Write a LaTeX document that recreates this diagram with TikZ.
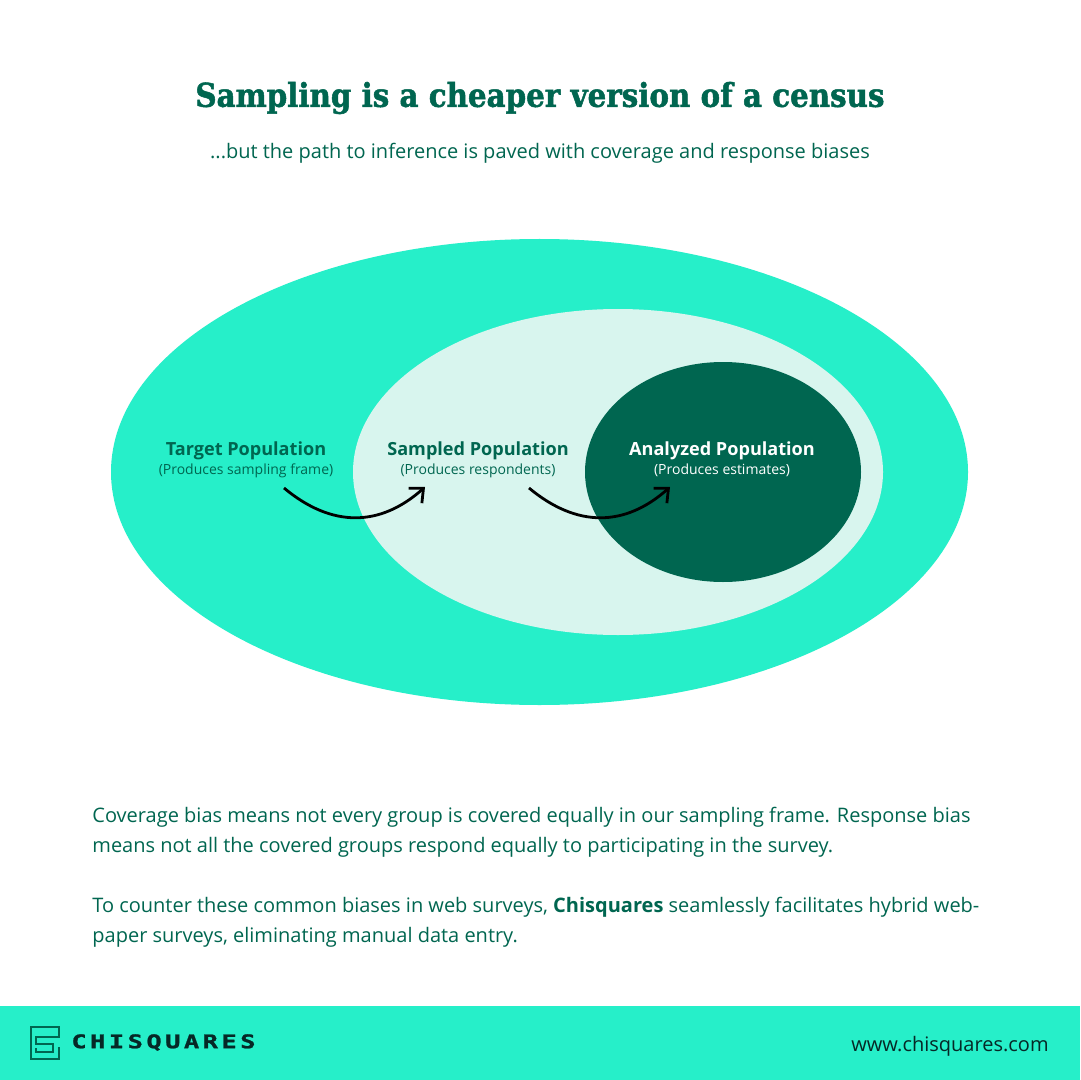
\documentclass[tikz,border=0pt]{standalone}
\usepackage{fontspec}
\setmainfont{Open Sans}
\newfontfamily\titlefont[FakeStretch=0.895,BoldFeatures={FakeBold=1.5}]{DejaVu Serif}
\newfontfamily\logofont[LetterSpace=18.5,FakeStretch=1.35,BoldFeatures={FakeBold=1.2}]{DejaVu Sans Mono}
\usetikzlibrary{arrows.meta,positioning,shapes.geometric}
\definecolor{chigreen}{RGB}{0,102,80}
\definecolor{chimint}{RGB}{38,239,201}
\definecolor{chipale}{RGB}{216,245,238}
\definecolor{chiink}{RGB}{6,40,38}
\tikzset{
  popshape/.style={ellipse,inner sep=0pt,draw=none},
  poptitle/.style={font=\fontsize{9.05}{11}\selectfont\bfseries,text=chigreen},
  popnote/.style={font=\fontsize{7}{8}\selectfont,text=chigreen},
  bodytext/.style={anchor=north west,align=left,inner sep=0pt,font=\fontsize{10}{15}\selectfont,text=chigreen},
  flowarrow/.style={-{Straight Barb[length=5.5pt,width=10pt]},line width=1.4pt,black},
  logoline/.style={chigreen,line width=1.4pt}
}
\begin{document}
\begin{tikzpicture}[x=0.5pt,y=-0.5pt]
  \useasboundingbox (0,0) rectangle (1080,1080);
  \fill[white] (0,0) rectangle (1080,1080);
  \fill[chimint] (0,1006) rectangle (1080,1080);
  \node[text=chigreen,font=\titlefont\fontsize{16.4}{20}\selectfont\bfseries] (headline) at (540,98) {Sampling is a cheaper version of a census};
  \node[text=chigreen,font=\fontsize{10}{12}\selectfont] (subline) at (540,153) {...but the path to inference is paved with coverage and response biases};
  \node[popshape,fill=chimint,minimum width=428.5pt,minimum height=233pt] (target) at (539.5,472) {};
  \node[popshape,fill=chipale,minimum width=265pt,minimum height=163pt] (sampled) at (618,472) {};
  \node[popshape,fill=chigreen,minimum width=138pt,minimum height=110pt] (analyzed) at (723,472) {};
  \node[poptitle] (targetname) at (246,451) {Target Population};
  \node[popnote] (targetnote) at (246,470.5) {(Produces sampling frame)};
  \node[poptitle] (samplename) at (478,451) {Sampled Population};
  \node[popnote] (samplenote) at (478,470.5) {(Produces respondents)};
  \node[poptitle,text=white] (analyzename) at (722,451) {Analyzed Population};
  \node[popnote,text=white] (analyzenote) at (722,470.5) {(Produces estimates)};
  \coordinate (targetout) at (284,488);
  \coordinate (samplein) at (425,487);
  \coordinate (sampleout) at (529,488);
  \coordinate (analyzein) at (670,487);
  \foreach \a/\b in {targetout/samplein,sampleout/analyzein}{\draw[flowarrow] (\a) .. controls +(48,40) and +(-45,40) .. (\b);}
  \node[bodytext] (coverage) at (92,807) {Coverage bias means not every group is covered equally in our sampling frame. Response bias\\means not all the covered groups respond equally to participating in the survey.};
  \node[bodytext] (counter) at (92,897) {To counter these common biases in web surveys, \textbf{Chisquares} seamlessly facilitates hybrid web-\\paper surveys, eliminating manual data entry.};
  % logo mark
  \draw[logoline] (59,1047) -- (59,1059) -- (31,1059) -- (31,1027) -- (59,1027) -- (59,1037) -- (36,1037) -- (36,1044) -- (53,1044) -- (53,1052) -- (36,1052) -- (36,1048);
  \node[anchor=west,inner sep=0pt,text=chiink,font=\logofont\fontsize{9.4}{11}\selectfont\bfseries] (logoname) at (71,1042.5) {CHISQUARES};
  \node[anchor=east,inner sep=0pt,text=chiink,font=\fontsize{10}{12}\selectfont] (website) at (1049,1046) {www.chisquares.com};
\end{tikzpicture}
\end{document}
